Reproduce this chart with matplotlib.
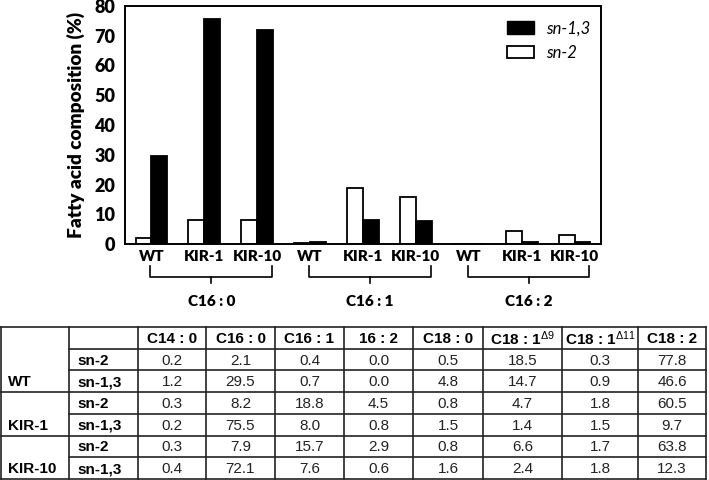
import matplotlib as mpl
import matplotlib.pyplot as plt
import matplotlib.transforms as mtransforms
from matplotlib.patches import Patch
import numpy as np

# Chart data (bars)
lines = ['WT', 'KIR-1', 'KIR-10']
fatty_acids = ['C16 : 0', 'C16 : 1', 'C16 : 2']
sn2 = [2.1, 8.2, 7.9, 0.4, 18.8, 15.7, 0.0, 4.5, 2.9]
sn13 = [29.5, 75.5, 72.1, 0.7, 8.0, 7.6, 0.0, 0.8, 0.6]

# Table data
table_cols = ['C14 : 0', 'C16 : 0', 'C16 : 1', '16 : 2', 'C18 : 0',
              r'C18 : 1$^{\Delta 9}$', r'C18 : 1$^{\Delta 11}$', 'C18 : 2']
table_groups = ['WT', 'KIR-1', 'KIR-10']
table_pos = ['sn-2', 'sn-1,3']
table_vals = [
    ['0.2', '2.1', '0.4', '0.0', '0.5', '18.5', '0.3', '77.8'],
    ['1.2', '29.5', '0.7', '0.0', '4.8', '14.7', '0.9', '46.6'],
    ['0.3', '8.2', '18.8', '4.5', '0.8', '4.7', '1.8', '60.5'],
    ['0.2', '75.5', '8.0', '0.8', '1.5', '1.4', '1.5', '9.7'],
    ['0.3', '7.9', '15.7', '2.9', '0.8', '6.6', '1.7', '63.8'],
    ['0.4', '72.1', '7.6', '0.6', '1.6', '2.4', '1.8', '12.3'],
]

mpl.rcParams['font.family'] = ['Lato', 'DejaVu Sans']
mpl.rcParams['mathtext.fontset'] = 'custom'
mpl.rcParams['mathtext.rm'] = 'Liberation Sans'
mpl.rcParams['mathtext.it'] = 'Liberation Sans:italic'
mpl.rcParams['mathtext.bf'] = 'Liberation Sans:bold'

W, H = 709, 480
fig = plt.figure(figsize=(W / 100, H / 100), dpi=100)
BOLD = 'heavy'

# --- bar chart ---
ax = fig.add_axes([125 / W, 1 - 244 / H, 476 / W, 238 / H])
x = np.arange(len(sn2))
bw = 0.3
ax.bar(x - bw / 2, sn2, bw, color='white', edgecolor='black', linewidth=1.3)
ax.bar(x + bw / 2, sn13, bw, color='black', edgecolor='black', linewidth=1.3)
ax.set_xlim(-0.5, len(sn2) - 0.5)
ax.set_ylim(0, 80)
ax.set_yticks(range(0, 81, 10))
ax.set_xticks(x)
ax.set_xticklabels(lines * len(fatty_acids), fontweight=BOLD, fontsize=11)
for lab in ax.get_yticklabels():
    lab.set_fontweight(BOLD)
ax.tick_params(axis='y', length=0, pad=7, labelsize=13)
ax.tick_params(axis='x', length=0, pad=4)
for s in ax.spines.values():
    s.set_linewidth(1.4)
ax.set_ylabel('Fatty acid composition (%)', fontsize=13.7, fontweight=BOLD, labelpad=7)

handles = [Patch(facecolor='black', edgecolor='black', label='sn-1,3'),
           Patch(facecolor='white', edgecolor='black', linewidth=1.3, label='sn-2')]
leg = ax.legend(handles=handles, loc='upper left', bbox_to_anchor=(0.786, 0.975),
                frameon=False, borderpad=0, handlelength=1.6, handleheight=0.75,
                handletextpad=0.7, labelspacing=0.5, prop={'style': 'italic', 'size': 12})

# brackets under each group
trans = mtransforms.blended_transform_factory(ax.transData, ax.transAxes)
y_top, y_bot, y_tick = -0.092, -0.139, -0.165
for g, name in enumerate(fatty_acids):
    x0 = g * 3 - 0.02
    x1 = g * 3 + 2 + 0.28
    xm = (x0 + x1) / 2
    ax.plot([x0, x0, x1, x1], [y_top, y_bot, y_bot, y_top], color='black',
            lw=1.2, transform=trans, clip_on=False)
    ax.plot([xm, xm], [y_bot, y_tick], color='black', lw=1.2,
            transform=trans, clip_on=False)
    ax.text(xm, -0.24, name, transform=trans, ha='center', va='center',
            fontsize=11, fontweight=BOLD)

# --- table ---
tax = fig.add_axes([0, 0, 1, 1], zorder=-1)
tax.set_xlim(0, W)
tax.set_ylim(H, 0)
tax.axis('off')
col_x = [1, 69, 138, 206, 275, 344, 413, 483, 562, 638, 706]
top, row_h = 327, 21.7
n_rows = 1 + len(table_vals)
row_y = [top + i * row_h for i in range(n_rows + 1)]
lw = 1.2
tf = {'family': 'Liberation Sans', 'size': 11}

# outer frame + vertical lines
for xv in col_x:
    tax.plot([xv, xv], [row_y[0], row_y[-1]], color='#222222', lw=lw)
tax.plot([col_x[0], col_x[-1]], [row_y[0], row_y[0]], color='#222222', lw=lw)
tax.plot([col_x[0], col_x[-1]], [row_y[-1], row_y[-1]], color='#222222', lw=lw)
# horizontal lines
for i in range(1, n_rows):
    x_start = col_x[0] if (i - 1) % 2 == 0 and i > 1 else col_x[1]
    tax.plot([x_start, col_x[-1]], [row_y[i], row_y[i]], color='#222222', lw=lw)

# header
for j, c in enumerate(table_cols):
    tax.text((col_x[j + 2] + col_x[j + 3]) / 2, (row_y[0] + row_y[1]) / 2 + 1, c,
             ha='center', va='center', fontweight='bold', **tf)
# body
for i, row in enumerate(table_vals):
    yc = (row_y[i + 1] + row_y[i + 2]) / 2 + 1
    tax.text(col_x[1] + 8, yc, table_pos[i % 2], ha='left', va='center',
             fontweight='bold', **tf)
    if i % 2 == 1:
        tax.text(col_x[0] + 7, yc, table_groups[i // 2], ha='left', va='center',
                 fontweight='bold', **tf)
    for j, v in enumerate(row):
        tax.text((col_x[j + 2] + col_x[j + 3]) / 2, yc, v, ha='center', va='center',
                 color='#222222', **tf)

fig.savefig('out.png', dpi=100)
